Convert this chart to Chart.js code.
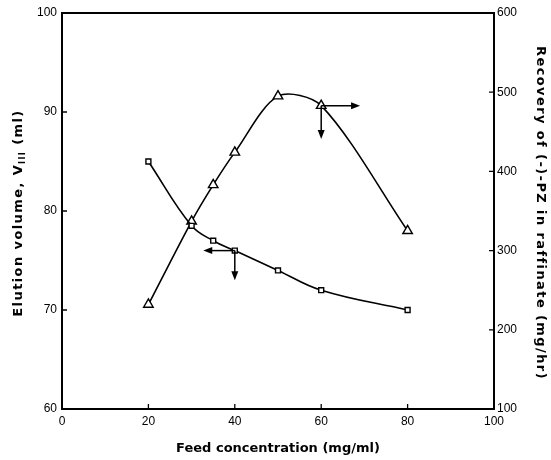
<!DOCTYPE html>
<html><head><meta charset="utf-8">
<script src="https://cdn.jsdelivr.net/npm/chart.js@4"></script>
<style>html,body{margin:0;padding:0;background:#fff}#wrap{width:551px;height:460px}</style>
</head><body><div id="wrap"><canvas id="c"></canvas></div>
<script>
const feedConc = [20, 30, 35, 40, 50, 60, 80];
const elutionVolume = [85, 78.5, 77, 76, 74, 72, 70];
const recovery = [232, 337, 383, 424, 495, 483, 325];
const xTicks = [0, 20, 40, 60, 80, 100];
const leftTicks = [60, 70, 80, 90, 100];
const rightTicks = [100, 200, 300, 400, 500, 600];
// arrows showing which axis a curve uses: [x0, y0, x1, y1, scale]
const arrows = [
  [60, 483, 69, 483, 'y2'],
  [60, 483, 60, 441, 'y2'],
  [40, 76, 32.7, 76, 'y'],
  [40, 76, 40, 73, 'y']
];
const leftTitle = ['Elution volume, V', 'III', ' (ml)'];
const rightTitle = 'Recovery of (-)-PZ in raffinate (mg/hr)';

const tickFont = {family: 'Liberation Sans, Arial', size: 12};
const titleFont = {family: 'DejaVu Sans', size: 13, weight: 'bold'};

const extras = {
  id: 'extras',
  afterDatasetsDraw(chart) {
    const {ctx, chartArea: a, scales} = chart;
    ctx.save();
    ctx.strokeStyle = '#000';
    ctx.lineWidth = 2;
    ctx.strokeRect(a.left, a.top, a.right - a.left, a.bottom - a.top);
    ctx.lineWidth = 1.3;
    ctx.beginPath();
    xTicks.slice(1, -1).forEach(v => {
      const px = scales.x.getPixelForValue(v);
      ctx.moveTo(px, a.bottom); ctx.lineTo(px, a.bottom - 5);
    });
    leftTicks.slice(1, -1).forEach(v => {
      const py = scales.y.getPixelForValue(v);
      ctx.moveTo(a.left, py); ctx.lineTo(a.left + 5, py);
    });
    rightTicks.slice(1, -1).forEach(v => {
      const py = scales.y2.getPixelForValue(v);
      ctx.moveTo(a.right, py); ctx.lineTo(a.right - 5, py);
    });
    ctx.stroke();
    // arrows
    ctx.fillStyle = '#000';
    arrows.forEach(([x0, y0, x1, y1, s]) => {
      const X0 = scales.x.getPixelForValue(x0), Y0 = scales[s].getPixelForValue(y0);
      const X1 = scales.x.getPixelForValue(x1), Y1 = scales[s].getPixelForValue(y1);
      const ang = Math.atan2(Y1 - Y0, X1 - X0);
      ctx.lineWidth = 1.5;
      ctx.beginPath();
      ctx.moveTo(X0, Y0);
      ctx.lineTo(X1 - 6 * Math.cos(ang), Y1 - 6 * Math.sin(ang));
      ctx.stroke();
      ctx.beginPath();
      ctx.moveTo(X1, Y1);
      ctx.lineTo(X1 - 9 * Math.cos(ang) + 3.5 * Math.sin(ang), Y1 - 9 * Math.sin(ang) - 3.5 * Math.cos(ang));
      ctx.lineTo(X1 - 9 * Math.cos(ang) - 3.5 * Math.sin(ang), Y1 - 9 * Math.sin(ang) + 3.5 * Math.cos(ang));
      ctx.closePath();
      ctx.fill();
    });
    ctx.restore();
  },
  afterDraw(chart) {
    const {ctx, chartArea: a} = chart;
    const cy = (a.top + a.bottom) / 2 + 2;
    const big = 'bold 13px "DejaVu Sans"', small = 'bold 8px "DejaVu Sans"';
    ctx.save();
    ctx.fillStyle = '#000';
    ctx.textBaseline = 'middle';
    ctx.letterSpacing = '1.4px';
    // left title, with subscript
    ctx.save();
    ctx.translate(19, cy);
    ctx.rotate(-Math.PI / 2);
    ctx.font = big;
    const w1 = ctx.measureText(leftTitle[0]).width, w3 = ctx.measureText(leftTitle[2]).width;
    ctx.font = small;
    const w2 = ctx.measureText(leftTitle[1]).width;
    let x = -(w1 + w2 + w3) / 2;
    ctx.font = big;
    ctx.fillText(leftTitle[0], x, 0);
    x += w1;
    ctx.font = small;
    ctx.fillText(leftTitle[1], x, 4);
    x += w2;
    ctx.font = big;
    ctx.fillText(leftTitle[2], x, 0);
    ctx.restore();
    // right title
    ctx.translate(540, cy);
    ctx.rotate(Math.PI / 2);
    ctx.font = big;
    ctx.textAlign = 'center';
    ctx.fillText(rightTitle, 0, 0);
    ctx.restore();
  }
};

new Chart(document.getElementById('c'), {
  type: 'line',
  data: {
    datasets: [
      {
        label: 'Elution volume',
        data: feedConc.map((x, i) => ({x: x, y: elutionVolume[i]})),
        yAxisID: 'y',
        borderColor: '#000',
        borderWidth: 1.6,
        backgroundColor: '#fff',
        pointStyle: 'rect',
        pointRadius: 3.5,
        pointBorderWidth: 1.4,
        tension: 0.4
      },
      {
        label: 'Recovery',
        data: feedConc.map((x, i) => ({x: x, y: recovery[i]})),
        yAxisID: 'y2',
        borderColor: '#000',
        borderWidth: 1.6,
        backgroundColor: '#fff',
        pointStyle: 'triangle',
        pointRadius: 5.5,
        pointBorderWidth: 1.4,
        tension: 0.3
      }
    ]
  },
  options: {
    responsive: true,
    maintainAspectRatio: false,
    animation: false,
    layout: {padding: {top: 13}},
    plugins: {legend: {display: false}, tooltip: {enabled: false}},
    scales: {
      x: {
        type: 'linear', min: 0, max: 100,
        afterBuildTicks: s => { s.ticks = xTicks.map(v => ({value: v})); },
        afterFit: s => { s.height = 51; },
        ticks: {font: tickFont, color: '#000', padding: 5},
        grid: {display: false, drawTicks: false},
        border: {display: false},
        title: {display: true, text: 'Feed concentration (mg/ml)', font: titleFont, color: '#000', padding: {top: 4, bottom: 4}}
      },
      y: {
        position: 'left', min: 60, max: 100,
        afterBuildTicks: s => { s.ticks = leftTicks.map(v => ({value: v})); },
        afterFit: s => { s.width = 62; },
        ticks: {font: tickFont, color: '#000', padding: 5},
        grid: {display: false, drawTicks: false},
        border: {display: false}
      },
      y2: {
        position: 'right', min: 100, max: 600,
        afterBuildTicks: s => { s.ticks = rightTicks.map(v => ({value: v})); },
        afterFit: s => { s.width = 57; },
        ticks: {font: tickFont, color: '#000', padding: 3},
        grid: {display: false, drawTicks: false},
        border: {display: false}
      }
    }
  },
  plugins: [extras]
});
</script>
</body></html>
